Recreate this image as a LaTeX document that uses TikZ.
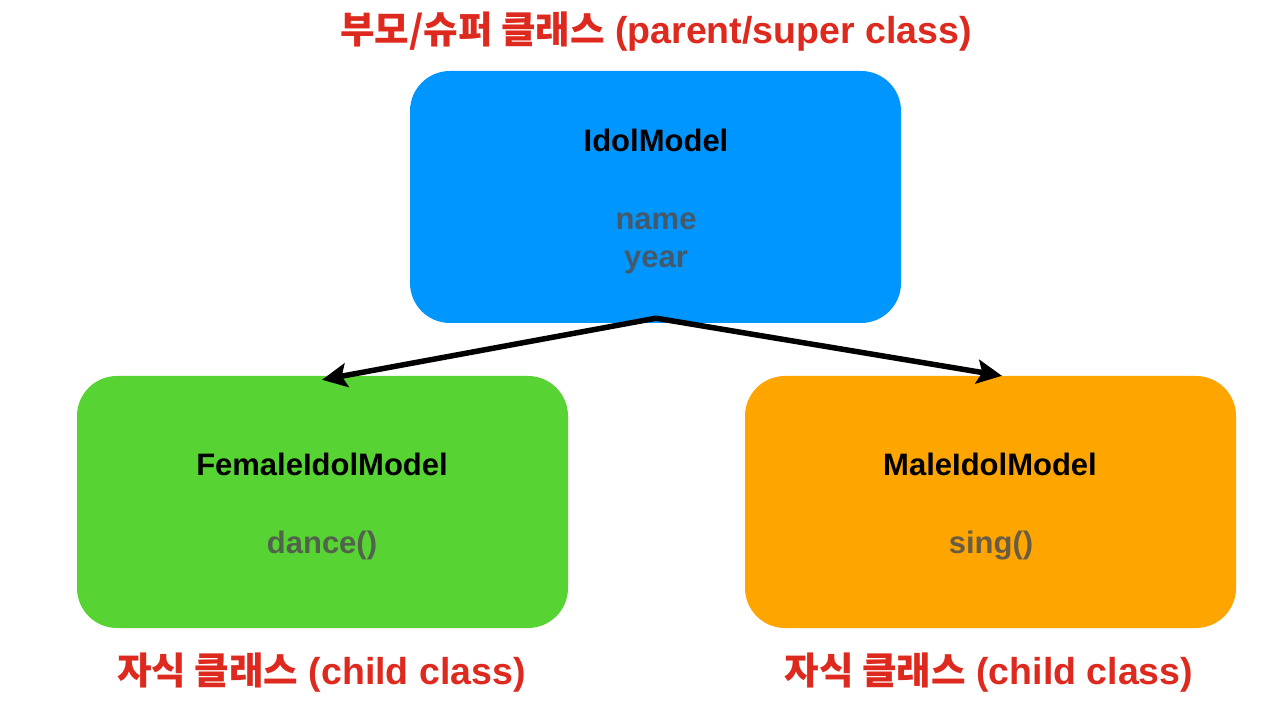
\documentclass[tikz,border=0pt]{standalone}
\usepackage{fontspec}
\setmainfont{Liberation Sans}
\newfontfamily\kr{Noto Sans CJK KR}
\usetikzlibrary{arrows.meta}
\definecolor{cblue}{RGB}{0,150,255}
\definecolor{cgreen}{RGB}{88,211,52}
\definecolor{corange}{RGB}{254,165,0}
\definecolor{cred}{RGB}{222,42,30}
\definecolor{cgray}{RGB}{80,80,80}
\tikzset{
  classbox/.style={rounded corners=40pt, minimum width=491pt, minimum height=252pt, inner sep=0pt, draw=none},
  cname/.style={font=\fontsize{31}{36}\selectfont\bfseries, text=black, anchor=base, inner sep=0pt},
  cmember/.style={font=\fontsize{31}{36}\selectfont\bfseries, text=cgray, text opacity=0.85, anchor=base, inner sep=0pt},
  redlabel/.style={font=\fontsize{37.5}{42}\selectfont\bfseries, text=cred, anchor=base, inner sep=0pt},
  inherit/.style={line width=5.5pt, -{Stealth[length=25pt,width=24pt,inset=5pt]}}
}
\begin{document}
\begin{tikzpicture}[x=1pt,y=1pt]
\useasboundingbox (0,0) rectangle (1265,712);
\fill[white] (0,0) rectangle (1265,712);
% boxes
\node[classbox, fill=cblue] (parent) at (655.5,515) {};
\node[classbox, fill=cgreen] (female) at (322.5,210) {};
\node[classbox, fill=corange] (male) at (990.5,210) {};
% texts
\node[redlabel] (ttitle) at (656,668) {{\kr 부모/슈퍼 클래스} (parent/super class)};
\node[redlabel] (tfem) at (321.5,28) {{\kr 자식 클래스} (child class)};
\node[redlabel] (tmale) at (989,28) {{\kr 자식 클래스} (child class)};
\node[cname] (nparent) at (656,560) {IdolModel};
\node[cmember] (mname) at (656,482) {name};
\node[cmember] (myear) at (656,444) {year};
\node[cname] (nfem) at (322,236) {FemaleIdolModel};
\node[cmember] (mdance) at (322,158) {dance()};
\node[cname] (nmale) at (990,236) {MaleIdolModel};
\node[cmember] (msing) at (991,158) {sing()};
% connectors
\coordinate (src) at ([xshift=0.5pt,yshift=5pt]parent.south);
\coordinate (lend) at ([xshift=-0.5pt,yshift=-4pt]female.north);
\coordinate (rend) at ([xshift=11.5pt,yshift=0pt]male.north);
\draw[inherit] (src) -- (lend);
\draw[inherit] (src) -- (rend);
\end{tikzpicture}
\end{document}
